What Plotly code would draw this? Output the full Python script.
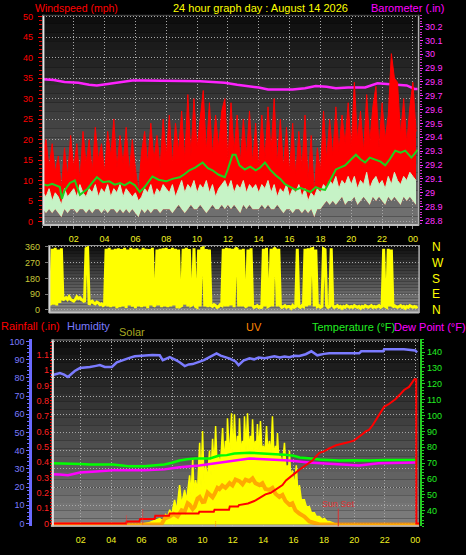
import plotly.graph_objects as go
import numpy as np

W, H = 466, 555
FONT = "Liberation Sans, Arial, sans-serif"

# ---------------- data ----------------
hour_ticks = [2, 4, 6, 8, 10, 12, 14, 16, 18, 20, 22, 24]
hour_labels = ["02", "04", "06", "08", "10", "12", "14", "16", "18", "20", "22", "00"]

# barometer (inHg) read points
baro_t = [0, 0.7, 1.4, 2.3, 3.0, 3.5, 4.2, 5.0, 5.8, 6.5, 7.4, 8.3, 9.3, 10.2, 11.0, 11.8, 12.6,
          13.3, 14.0, 14.6, 15.3, 16.2, 17.0, 17.7, 18.4, 19.0, 19.8, 20.9, 21.7, 22.3, 23.0, 23.6, 24.1, 24.3]
baro_v = [29.82, 29.815, 29.80, 29.795, 29.78, 29.775, 29.785, 29.80, 29.81, 29.81, 29.81, 29.81, 29.81,
          29.805, 29.80, 29.795, 29.78, 29.77, 29.76, 29.745, 29.745, 29.745, 29.755, 29.77, 29.765, 29.755,
          29.76, 29.76, 29.79, 29.785, 29.78, 29.775, 29.75, 29.75]

# wind, sampled every 12 minutes (0.0 .. 24.2 h)
wind_t = [round(0.2 * i, 1) for i in range(122)]
gust = [17, 20, 13, 19, 12, 16, 8, 18, 11, 21,
        13, 19, 10, 22, 14, 20, 12, 23, 15, 19,
        12, 22, 16, 25, 13, 21, 14, 23, 12, 20,
        13, 7, 17, 22, 14, 24, 15, 21, 13, 25,
        16, 26, 14, 24, 17, 27, 15, 31, 16, 30,
        18, 25, 32, 17, 29, 16, 26, 18, 27, 30,
        15, 29, 17, 26, 14, 25, 16, 27, 14, 24,
        13, 26, 15, 28, 17, 30, 14, 25, 13, 23,
        12, 24, 11, 22, 13, 26, 10, 21, 7, 18,
        12, 27, 15, 25, 16, 28, 17, 26, 19, 29,
        18, 34, 20, 27, 17, 31, 19, 28, 33, 18,
        29, 20, 26, 41, 35, 34, 21, 30, 19, 28,
        34, 22]
speed = [7, 6, 8, 5, 7, 6, 4, 8, 6, 7,
         8, 6, 9, 7, 6, 8, 7, 9, 6, 8,
         7, 9, 6, 8, 7, 9, 6, 8, 7, 6,
         7, 5, 6, 8, 7, 9, 6, 8, 7, 9,
         8, 7, 9, 6, 8, 10, 7, 9, 8, 10,
         7, 9, 8, 10, 7, 9, 6, 8, 9, 10,
         8, 10, 7, 9, 8, 10, 7, 9, 8, 9,
         7, 9, 8, 10, 7, 9, 6, 8, 7, 9,
         6, 8, 7, 9, 6, 8, 5, 7, 6, 8,
         7, 9, 8, 10, 9, 11, 8, 10, 9, 11,
         9, 11, 8, 10, 9, 12, 8, 10, 11, 9,
         10, 8, 11, 9, 12, 10, 9, 11, 10, 12,
         11, 10]
lull = [3, 2, 3, 2, 3, 2, 1, 3, 2, 3,
        3, 2, 3, 3, 2, 3, 2, 3, 3, 2,
        3, 2, 3, 3, 2, 3, 2, 3, 2, 3,
        2, 1, 3, 2, 3, 2, 3, 3, 2, 3,
        3, 3, 2, 3, 4, 3, 2, 3, 4, 3,
        3, 4, 3, 2, 3, 4, 3, 3, 4, 3,
        4, 3, 4, 3, 2, 4, 3, 4, 3, 3,
        3, 4, 3, 4, 3, 3, 4, 3, 2, 3,
        3, 2, 3, 3, 2, 3, 2, 3, 1, 3,
        3, 4, 5, 4, 5, 4, 5, 6, 4, 5,
        5, 6, 4, 5, 6, 5, 4, 6, 5, 6,
        5, 4, 6, 5, 6, 5, 4, 6, 5, 6,
        5, 4]
avg_t = [0, 0.3, 0.6, 0.9, 1.1, 1.23, 1.4, 1.75, 2.07, 2.4, 2.6, 2.9, 3.2, 3.5, 3.9, 4.3, 4.66, 5.0, 5.3,
         5.63, 5.95, 6.28, 6.6, 6.85, 7.1, 7.5, 8.0, 8.4, 8.87, 9.2, 9.5, 9.9, 10.36, 10.7, 11.0, 11.4, 11.8,
         12.0, 12.3, 12.5, 12.75, 13.1, 13.45, 13.8, 14.1, 14.4, 14.75, 15.1, 15.4, 15.7, 16.05, 16.4, 16.7,
         17.0, 17.35, 17.7, 18.0, 18.3, 18.65, 19.0, 19.3, 19.6, 19.95, 20.3, 20.6, 20.9, 21.2, 21.55, 21.9,
         22.2, 22.5, 22.85, 23.2, 23.5, 23.7, 23.9, 24.1, 24.3]
avg_v = [9.1, 8.8, 9.2, 8.6, 8.4, 5.5, 7.5, 9.4, 10.0, 6.5, 7.2, 8.0, 9.5, 10.8, 9.6, 9.8, 9.0, 9.4, 8.8,
         9.6, 8.9, 7.2, 8.4, 9.6, 11.0, 10.2, 9.8, 10.4, 10.8, 11.6, 12.5, 13.2, 14.4, 13.0, 12.5, 11.4, 10.8,
         12.8, 16.3, 16.3, 13.7, 12.7, 13.4, 12.5, 13.2, 14.4, 12.6, 11.3, 10.4, 9.1, 8.4, 7.7, 8.2,
         7.7, 7.2, 8.4, 7.9, 7.7, 10.2, 12.7, 13.2, 13.7, 15.0, 16.3, 15.2, 14.4, 15.6, 15.1, 14.6,
         13.7, 15.2, 17.3, 16.8, 17.3, 16.4, 15.6, 16.5, 17.5]

# wind direction, sampled every 6 minutes (0.0 .. 24.3 h)
dir_t = [round(0.1 * i, 1) for i in range(244)]
dir_v = [30, 25, 35, 30, 40, 28, 350, 30, 355, 25,
         345, 40, 352, 55, 65, 70, 60, 75, 60, 55,
         50, 60, 75, 65, 70, 60, 55, 45, 350, 355,
         30, 45, 50, 40, 35, 45, 40, 30, 35, 25,
         30, 350, 20, 355, 15, 345, 20, 350, 10, 352,
         15, 348, 20, 355, 12, 345, 25, 355, 18, 350,
         10, 352, 20, 345, 15, 355, 20, 350, 10, 348,
         25, 355, 20, 30, 345, 25, 350, 15, 352, 20,
         355, 15, 348, 20, 355, 25, 350, 10, 345, 20,
         25, 350, 30, 355, 20, 348, 25, 30, 352, 20,
         15, 345, 20, 352, 355, 20, 348, 15, 345, 25,
         20, 30, 25, 15, 20, 30, 25, 350, 20, 355,
         20, 352, 25, 350, 15, 355, 348, 20, 345, 20,
         350, 25, 15, 345, 20, 352, 25, 15, 20, 25,
         15, 20, 10, 350, 20, 355, 20, 25, 350, 20,
         355, 345, 20, 350, 25, 15, 20, 25, 15, 20,
         20, 10, 25, 15, 20, 350, 20, 15, 25, 20,
         350, 20, 352, 25, 348, 350, 20, 345, 20, 25,
         15, 20, 350, 345, 25, 15, 20, 352, 25, 15,
         20, 25, 15, 20, 10, 20, 15, 25, 20, 15,
         20, 15, 25, 20, 15, 20, 10, 20, 15, 25,
         20, 15, 20, 25, 15, 20, 15, 20, 25, 15,
         20, 350, 20, 15, 350, 20, 345, 15, 25, 20,
         15, 20, 25, 15, 20, 10, 20, 15, 25, 20,
         15, 20, 15, 20]
dir_ticks = [0, 90, 180, 270, 360]
compass_vals = [360, 270, 180, 90, 0]
compass_text = ["N", "W", "S", "E", "N"]

# rainfall (in)
rain_t = [0.03, 4.98, 5.02, 5.85, 5.9, 6.85, 6.9, 7.8, 7.85, 9.75, 9.8, 10.75, 10.8, 11.75, 11.8, 12.35, 12.4,
          13.0, 13.5, 13.8, 14.15, 14.5, 14.8, 15.05, 15.27, 15.5, 15.73, 16.0, 16.38, 16.8, 17.24, 17.5,
          17.7, 18.0, 18.35, 18.8, 19.3, 19.6, 19.97, 20.2, 20.5, 20.75, 20.96, 21.2, 21.4, 21.7, 21.96,
          22.3, 22.7, 23.0, 23.27, 23.6, 23.8, 23.95, 24.07, 24.08, 24.26]
rain_v = [0, 0, 0.013, 0.013, 0.03, 0.03, 0.05, 0.05, 0.065, 0.065, 0.077, 0.077, 0.09, 0.09, 0.11, 0.11, 0.12,
          0.13, 0.15, 0.17, 0.19, 0.2, 0.22, 0.24, 0.25, 0.28, 0.30, 0.32, 0.35, 0.38, 0.41, 0.44,
          0.46, 0.47, 0.49, 0.51, 0.52, 0.53, 0.54, 0.56, 0.58, 0.6, 0.61, 0.64, 0.67, 0.72, 0.76,
          0.78, 0.81, 0.84, 0.87, 0.89, 0.92, 0.94, 0.94, 0, 0]
rain_ticks = [0, 0.1, 0.2, 0.3, 0.4, 0.5, 0.6, 0.7, 0.8, 0.9, 1.0, 1.1, 1.2]
rain_labels = ["0", "0.1", "0.2", "0.3", "0.4", "0.5", "0.6", "0.7", "0.8", "0.9", "1", "1.1", "1.2"]
rain_marks_t = [5.0, 6.07]

# humidity (%)
hum_t = [0.03, 0.16, 0.62, 0.9, 1.15, 1.6, 1.94, 2.3, 2.6, 3.0, 3.25, 3.58, 4.04, 4.37, 4.9, 5.2, 5.55, 6.2,
         6.7, 7.19, 7.39, 7.6, 7.85, 8.2, 8.5, 8.84, 9.1, 9.36, 9.82, 10.1, 10.47, 10.93, 11.2, 11.52, 11.8,
         12.18, 12.38, 12.7, 13.1, 13.4, 13.7, 14.1, 14.4, 14.74, 15.1, 15.4, 15.73, 16.05, 16.38, 16.8,
         17.17, 17.56, 18.0, 18.35, 19.0, 19.6, 20.32, 20.45, 21.9, 21.96, 23.27, 24.0, 24.13]
hum_v = [81.5, 81.6, 82.7, 81.8, 80.5, 83.8, 85.4, 85.6, 86.0, 86.6, 87.0, 86.0, 86.0, 88.6, 90.3, 91.0, 91.9,
         92.4, 92.6, 92.4, 89.7, 90.5, 91.4, 90.0, 88.6, 86.5, 87.4, 87.6, 89.0, 89.8, 91.4, 93.5, 92.2, 91.4,
         90.6, 89.0, 87.0, 89.5, 90.8, 90.2, 91.2, 90.8, 91.5, 91.9, 91.2, 91.8, 91.4, 92.2, 92.0, 93.0,
         94.6, 92.4, 93.2, 93.5, 93.5, 93.5, 93.5, 94.6, 94.6, 95.7, 95.7, 95.1, 94.0]

# temperature / dew point (F)
temp_t = [0.03, 0.16, 0.7, 1.28, 2.0, 2.6, 3.3, 4.1, 4.7, 5.2, 6.2, 6.9, 7.5, 8.0, 8.5, 9.0, 9.5, 10.5, 11.1,
          11.6, 12.1, 13.1, 13.8, 14.4, 15.4, 16.0, 16.4, 17.0, 17.7, 18.3, 19.0, 20.0, 21.0, 22.0, 22.9, 24.0,
          24.13]
temp_v = [69.8, 69.8, 69.6, 69.8, 69.4, 69.1, 69.3, 69.1, 68.5, 67.9, 67.9, 68.3, 69.1, 70.2, 71.6, 72.4, 72.9,
          72.9, 74.7, 75.0, 76.0, 76.5, 76.2, 76.0, 75.3, 74.6, 73.5, 73.0, 72.2, 72.0, 71.6, 71.8, 71.6, 72.0,
          72.0, 72.0, 72.0]
dew_t = [0.03, 0.16, 0.6, 1.15, 1.6, 1.94, 3.0, 4.1, 5.2, 6.2, 7.5, 8.5, 9.8, 11.1, 12.4, 13.1, 14.4, 15.7, 17.0,
         18.0, 19.0, 20.3, 21.6, 22.8, 24.0, 24.13]
dew_v = [63.0, 63.0, 62.8, 62.3, 63.5, 64.0, 64.6, 65.4, 65.4, 65.4, 66.0, 67.3, 68.5, 70.4, 72.2, 72.9, 72.2,
         71.6, 70.4, 69.8, 69.1, 68.5, 69.8, 70.0, 70.4, 70.4]

# solar radiation (W/m2)
solar_t = [0.03, 5.88, 6.53, 6.86, 7.19, 7.39, 7.58, 7.72, 7.85, 7.98, 8.17, 8.31, 8.50, 8.63, 8.83, 8.96, 9.16,
           9.26, 9.36, 9.46, 9.55, 9.68, 9.82, 9.91, 10.01, 10.11, 10.21, 10.34, 10.47, 10.57, 10.67, 10.77,
           10.87, 10.97, 11.06, 11.19, 11.33, 11.42, 11.52, 11.59, 11.65, 11.79, 11.92, 12.02, 12.11, 12.21,
           12.31, 12.38, 12.44, 12.54, 12.64, 12.71, 12.77, 12.87, 12.97, 13.07, 13.16, 13.23, 13.30, 13.39,
           13.49, 13.56, 13.62, 13.72, 13.82, 13.92, 14.02, 14.12, 14.22, 14.31, 14.41, 14.51, 14.61, 14.71,
           14.81, 14.87, 14.94, 15.04, 15.13, 15.27, 15.40, 15.50, 15.59, 15.66, 15.73, 15.82, 15.92, 16.05,
           16.18, 16.28, 16.38, 16.51, 16.71, 16.84, 17.04, 17.17, 17.37, 17.50, 17.70, 17.90, 18.03, 18.22,
           18.35, 18.68, 19.02, 24.26]
solar_v = [0, 0, 12, 24, 36, 24, 60, 48, 90, 60, 150, 84, 240, 120, 210, 144, 300, 168, 402, 180, 270, 204,
           498, 228, 570, 252, 360, 276, 450, 300, 522, 324, 600, 342, 420, 360, 588, 372, 510, 384, 648, 396,
           678, 408, 672, 420, 540, 432, 648, 438, 510, 444, 660, 450, 678, 450, 540, 456, 642, 456, 510, 456,
           612, 450, 630, 444, 480, 438, 600, 432, 510, 420, 660, 408, 480, 396, 558, 378, 420, 360, 498, 330,
           360, 300, 450, 270, 330, 228, 360, 192, 240, 150, 150, 108, 108, 72, 72, 48, 48, 30, 36, 18, 18, 6,
           0, 0]

# UV index
uv_t = [0.03, 7.3, 7.52, 7.85, 8.11, 8.37, 8.63, 8.83, 9.03, 9.16, 9.36, 9.49, 9.68, 9.82, 10.01, 10.14, 10.34,
        10.47, 10.67, 10.8, 10.99, 11.12, 11.31, 11.52, 11.79, 11.98, 12.18, 12.44, 12.64, 12.84, 13.1, 13.3,
        13.49, 13.76, 13.95, 14.15, 14.41, 14.61, 14.81, 15.07, 15.27, 15.46, 15.73, 15.92, 16.12, 16.38,
        16.71, 17.04, 17.37, 17.7, 24.26]
uv_v = [0, 0, 0.5, 0.67, 0.9, 0.67, 1.2, 1.08, 1.8, 1.67, 1.3, 1.5, 2.2, 2.33, 1.9, 1.92, 2.7, 2.58, 2.3, 2.58,
        3.1, 3.0, 3.3, 3.1, 3.5, 3.3, 3.8, 3.67, 3.4, 3.8, 3.67, 3.9, 3.5, 3.33, 3.5, 3.0, 2.92, 3.1, 2.6,
        2.33, 2.5, 2.0, 1.67, 1.8, 1.2, 0.92, 0.67, 0.25, 0.08, 0, 0]

sunset_t = 18.94
solar_noon_mark_t = 10.87

wind_ticks = [0, 5, 10, 15, 20, 25, 30, 35, 40, 45, 50]
baro_ticks = [28.8, 28.9, 29.0, 29.1, 29.2, 29.3, 29.4, 29.5, 29.6, 29.7, 29.8, 29.9, 30.0, 30.1, 30.2]
baro_labels = ["28.8", "28.9", "29", "29.1", "29.2", "29.3", "29.4", "29.5", "29.6", "29.7", "29.8", "29.9",
               "30", "30.1", "30.2"]
hum_ticks = [0, 10, 20, 30, 40, 50, 60, 70, 80, 90, 100]
temp_ticks = [40, 50, 60, 70, 80, 90, 100, 110, 120, 130, 140]


# ---------------- helpers (pixel -> paper) ----------------
def px(x):
    return x / W


def py(y):
    return 1 - y / H


fig = go.Figure()

# ---- top panel ----
fig.add_trace(go.Scatter(x=baro_t, y=baro_v, xaxis="x", yaxis="y", mode="lines",
                         line=dict(color="#ff22ff", width=2.5)))
fig.add_trace(go.Scatter(x=wind_t, y=lull, xaxis="x", yaxis="y2", mode="lines", line=dict(width=0)))
fig.add_trace(go.Scatter(x=wind_t, y=gust, xaxis="x", yaxis="y2", mode="lines", fill="tonexty",
                         fillcolor="#ff0000", line=dict(color="#ff0000", width=1)))
fig.add_trace(go.Scatter(x=wind_t, y=lull, xaxis="x", yaxis="y2", mode="lines", line=dict(width=0)))
fig.add_trace(go.Scatter(x=wind_t, y=speed, xaxis="x", yaxis="y2", mode="lines", fill="tonexty",
                         fillcolor="#c6f3c6", line=dict(color="#c6f3c6", width=1)))
fig.add_trace(go.Scatter(x=avg_t, y=avg_v, xaxis="x", yaxis="y2", mode="lines",
                         line=dict(color="#1ed21e", width=2)))

# ---- middle panel ----
fig.add_trace(go.Scatter(x=dir_t, y=dir_v, xaxis="x2", yaxis="y3", mode="lines",
                         line=dict(color="#ffff00", width=3)))
fig.add_trace(go.Scatter(x=[dir_t[0]], y=[dir_v[0]], xaxis="x2", yaxis="y4", mode="lines",
                         line=dict(width=0), hoverinfo="skip"))

# ---- bottom panel ----
fig.add_trace(go.Scatter(x=solar_t, y=solar_v, xaxis="x3", yaxis="y5", mode="lines", fill="tozeroy",
                         fillcolor="#ffff00", line=dict(color="#ffff00", width=1.5)))
fig.add_trace(go.Scatter(x=uv_t, y=uv_v, xaxis="x3", yaxis="y6", mode="lines",
                         line=dict(color="rgba(255,140,0,0.75)", width=4)))
fig.add_trace(go.Scatter(x=hum_t, y=hum_v, xaxis="x3", yaxis="y7", mode="lines",
                         line=dict(color="#7b7bff", width=2.5)))
fig.add_trace(go.Scatter(x=temp_t, y=temp_v, xaxis="x3", yaxis="y8", mode="lines",
                         line=dict(color="#00ff00", width=2.5)))
fig.add_trace(go.Scatter(x=dew_t, y=dew_v, xaxis="x3", yaxis="y8", mode="lines",
                         line=dict(color="#ff00ff", width=2.5)))
fig.add_trace(go.Scatter(x=rain_t, y=rain_v, xaxis="x3", yaxis="y9", mode="lines",
                         line=dict(color="#ff0000", width=2)))

GRID = dict(showgrid=True, gridcolor="#a8a8a8", gridwidth=1, griddash="1px,2px")
tf = lambda c, s=9: dict(family=FONT, size=s, color=c)

top_dom = [py(224), py(10)]
mid_dom = [py(313), py(244)]
bot_dom = [py(530), py(340)]

fig.update_layout(
    width=W, height=H, margin=dict(l=0, r=0, t=0, b=0),
    paper_bgcolor="#000000", plot_bgcolor="rgba(0,0,0,0)", showlegend=False,
    font=dict(family=FONT),
    xaxis=dict(domain=[px(43), px(420)], range=[0, 24.4], anchor="y", tickmode="array",
               tickvals=hour_ticks, showticklabels=False, ticks="outside", ticklen=3, tickcolor="#909090",
               minor=dict(dtick=0.5, tick0=0, ticks="outside", ticklen=2, tickcolor="#909090"),
               zeroline=False, showline=False, **GRID),
    yaxis=dict(domain=top_dom, range=[28.764, 30.285], anchor="x", side="right", tickmode="array",
               tickvals=baro_ticks, ticktext=baro_labels, tickfont=tf("#ff33ff"), ticks="outside",
               ticklen=3, tickcolor="#ff33ff",
               minor=dict(dtick=0.02, tick0=28.8, ticks="outside", ticklen=2, tickcolor="#cc33cc"),
               showgrid=False, zeroline=False, showline=False),
    yaxis2=dict(overlaying="y", range=[-0.96, 50.48], anchor="x", side="left", tickmode="array",
                tickvals=wind_ticks, tickfont=tf("#ff0000"), ticks="outside", ticklen=4,
                tickcolor="#ff0000", ticklabelstandoff=3,
                minor=dict(dtick=1, tick0=0, ticks="outside", ticklen=3, tickcolor="#dd0000"),
                zeroline=False, showline=False, **GRID),
    xaxis2=dict(domain=[px(49), px(420)], range=[0.39, 24.4], anchor="y3", side="top", tickmode="array",
                tickvals=hour_ticks, ticktext=hour_labels, tickfont=tf("#f0f020"), ticks="",
                showgrid=False, zeroline=False, showline=False),
    yaxis3=dict(domain=mid_dom, range=[-17, 371], anchor="x2", side="left", tickmode="array",
                tickvals=dir_ticks, tickfont=tf("#c8c838"), ticks="outside", ticklen=3,
                tickcolor="#777777", ticklabelstandoff=3, zeroline=False, showline=False, **GRID),
    yaxis4=dict(overlaying="y3", range=[-17, 371], anchor="x2", side="right", tickmode="array",
                tickvals=compass_vals, ticktext=compass_text, tickfont=tf("#ffff00", 12), ticks="",
                ticklabelstandoff=12, showgrid=False, zeroline=False, showline=False),
    xaxis3=dict(domain=[px(51), px(420)], range=[0.03, 24.26], anchor="y5", tickmode="array",
                tickvals=hour_ticks, ticktext=hour_labels, tickfont=tf("#f0f020"), ticks="",
                ticklabelstandoff=7, zeroline=False, showline=False, **GRID),
    yaxis5=dict(domain=bot_dom, range=[-12, 1128], anchor="x3", visible=False, showgrid=False),
    yaxis6=dict(overlaying="y5", range=[-0.167, 15.67], visible=False, showgrid=False),
    yaxis7=dict(overlaying="y5", anchor="free", position=px(30.5), side="left", range=[-1.6, 101.1],
                tickmode="array", tickvals=hum_ticks, tickfont=tf("#7b7bff"), ticks="outside", ticklen=3,
                tickcolor="#6a6aff", showline=True, linecolor="#6a6aff", linewidth=3,
                minor=dict(dtick=2, tick0=0, ticks="outside", ticklen=2, tickcolor="#6a6aff"),
                zeroline=False, **GRID),
    yaxis8=dict(overlaying="y5", anchor="free", position=px(422), side="right", range=[30, 148],
                tickmode="array", tickvals=temp_ticks, tickfont=tf("#22ee22"), ticks="outside", ticklen=3,
                tickcolor="#22cc22", showline=True, linecolor="#22cc22", linewidth=2,
                minor=dict(dtick=2, tick0=0, ticks="outside", ticklen=2, tickcolor="#22cc22"),
                showgrid=False, zeroline=False),
    yaxis9=dict(overlaying="y5", anchor="free", position=px(49), side="left", range=[-0.019, 1.199],
                tickmode="array", tickvals=rain_ticks, ticktext=rain_labels, tickfont=tf("#ff2020"),
                ticks="inside", ticklen=3, tickcolor="#ff0000",
                minor=dict(dtick=0.02, tick0=0, ticks="inside", ticklen=2, tickcolor="#dd0000"),
                showgrid=False, zeroline=False, showline=False),
)

# ---- background gradients and frames ----
shapes = []


def gradient(x0, x1, y0, y1, c0, c1, n=24):
    for i in range(n):
        ya = y0 + (y1 - y0) * i / n
        yb = y0 + (y1 - y0) * (i + 1) / n
        c = int(c0 + (c1 - c0) * (i + 0.5) / n)
        shapes.append(dict(type="rect", xref="paper", yref="paper", x0=px(x0), x1=px(x1),
                           y0=py(yb), y1=py(ya), fillcolor=f"rgb({c},{c},{c})",
                           line=dict(width=0), layer="below"))


gradient(43, 420, 10, 224, 12, 118)
gradient(49, 420, 244, 313, 12, 140)
gradient(51, 420, 340, 530, 12, 130)


def hline(x0, x1, y, color, w=1):
    shapes.append(dict(type="line", xref="paper", yref="paper", x0=px(x0), x1=px(x1), y0=py(y), y1=py(y),
                       line=dict(color=color, width=w), layer="above"))


def vline(x, y0, y1, color, w=1):
    shapes.append(dict(type="line", xref="paper", yref="paper", x0=px(x), x1=px(x), y0=py(y0), y1=py(y1),
                       line=dict(color=color, width=w), layer="above"))


# top frame
vline(43.5, 10, 224, "#e6e6e6", 2)
hline(43, 420, 223.5, "#bdbdbd", 2)
vline(419.5, 10, 224, "#b0b0b0", 1.5)
hline(43, 420, 10.5, "#4a4a4a", 1)
# middle frame
vline(49.5, 244, 313, "#d8d8d8", 2)
hline(49, 420, 312.5, "#c0c0c0", 2)
vline(420, 244, 313, "#b0b0b0", 1.5)
hline(49, 420, 244.5, "#9a9a9a", 1)
# bottom frame
vline(53, 340, 530, "#e0e0e0", 2)
hline(51, 420, 529.5, "#c0c0c0", 1.5)
hline(51, 420, 340.5, "#8a8a8a", 1)

# sunset / event markers (data-anchored x)
shapes.append(dict(type="line", xref="x3", yref="paper", x0=sunset_t, x1=sunset_t, y0=py(530), y1=py(512),
                   line=dict(color="#dd3030", width=1)))
for t, top in zip(rain_marks_t, [519, 512]):
    shapes.append(dict(type="line", xref="x3", yref="paper", x0=t, x1=t, y0=py(528), y1=py(top),
                       line=dict(color="#ff3030", width=1, dash="1px,1px")))
shapes.append(dict(type="line", xref="x3", yref="paper", x0=solar_noon_mark_t, x1=solar_noon_mark_t,
                   y0=py(530), y1=py(524), line=dict(color="#ff8800", width=1, dash="1px,1px")))

fig.update_layout(shapes=shapes)


def label(text, x, y, color, size=11, anchor="left"):
    fig.add_annotation(text=text, xref="paper", yref="paper", x=px(x), y=py(y), xanchor=anchor,
                       yanchor="middle", showarrow=False, font=dict(family=FONT, size=size, color=color))


label("Windspeed (mph)", 33, 3, "#ff0000", 10.5)
label("24 hour graph day : August 14 2026", 171, 3, "#ffff00")
label("Barometer (.in)", 370, 3, "#ff00ff")
label("Rainfall (.in)", -1, 326, "#ff0000")
label("Humidity", 65, 326, "#7b7bff")
label("Solar", 117, 332, "#a8a820")
label("UV", 245, 327, "#ff8800")
label("Temperature (°F)", 311, 327, "#22ee22")
label("Dew Point (°F)", 393, 327, "#ff00ff")
fig.add_annotation(text="Sun Set", xref="x3", yref="paper", x=sunset_t, y=py(507), xanchor="center",
                   yanchor="middle", showarrow=False, font=dict(family=FONT, size=9, color="#dd3333"))

fig.write_html("out.html", config={"displayModeBar": False},
               post_script="document.body.style.margin='0px';document.body.style.overflow='hidden';")
